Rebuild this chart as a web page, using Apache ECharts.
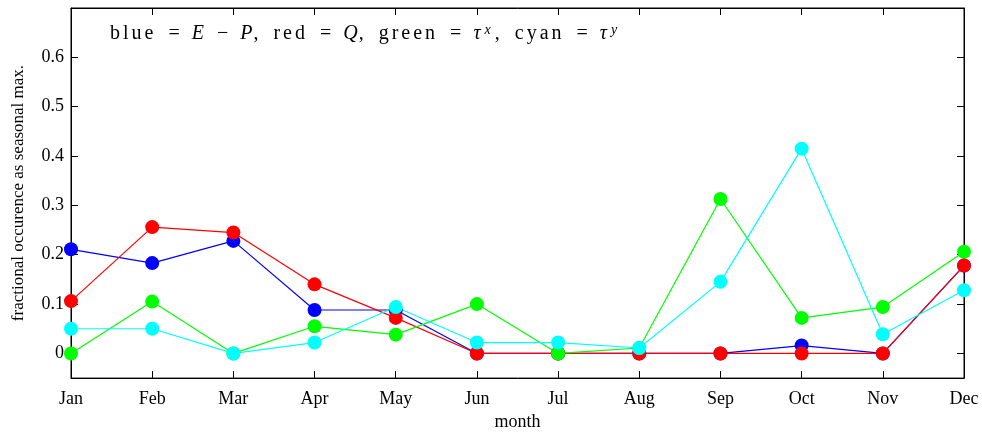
<!DOCTYPE html>
<html>
<head>
<meta charset="utf-8">
<script src="https://cdn.jsdelivr.net/npm/echarts@6/dist/echarts.min.js"></script>
<style>
  html, body { margin: 0; padding: 0; background: #fff; }
  #chart { width: 982px; height: 436px; }
</style>
</head>
<body>
<div id="chart"></div>
<script>
// Months along the x axis
const months = ['Jan', 'Feb', 'Mar', 'Apr', 'May', 'Jun', 'Jul', 'Aug', 'Sep', 'Oct', 'Nov', 'Dec'];

// Fractional occurrence as seasonal max, per month
const evapMinusPrecip = [0.211, 0.183, 0.228, 0.088, 0.088, 0, 0, 0, 0, 0.016, 0, 0.178];   // blue, E - P
const heatFlux        = [0.106, 0.256, 0.245, 0.140, 0.072, 0, 0, 0, 0, 0, 0, 0.178];       // red, Q
const tauX            = [0, 0.105, 0, 0.055, 0.038, 0.100, 0, 0.011, 0.313, 0.072, 0.094, 0.206]; // green
const tauY            = [0.050, 0.050, 0, 0.022, 0.094, 0.022, 0.022, 0.011, 0.145, 0.415, 0.039, 0.128]; // cyan

// Labelled y ticks
const yTicks = [0, 0.1, 0.2, 0.3, 0.4, 0.5, 0.6];

const serif = 'Liberation Serif';

// Build a letter-spaced rich string: each character becomes its own token
function spaced(str, tok) {
  return str.split('').map(ch => '{' + tok + '|' + ch + '}').join('');
}
const gap = '{g| }';
const legendText =
  spaced('blue', 'r') + gap + '{m|=}' + gap + '{i|E}' + gap + '{m|−}' + gap + '{i|P}{r|,}' + gap +
  spaced('red', 'r') + gap + '{m|=}' + gap + '{i|Q}{r|,}' + gap +
  spaced('green', 'r') + gap + '{m|=}' + gap + '{i|τ}{s|x}{r|,}' + gap +
  spaced('cyan', 'r') + gap + '{m|=}' + gap + '{i|τ}{s|y}';

function lineSeries(name, data, color) {
  return {
    name: name,
    type: 'line',
    data: data,
    symbol: 'circle',
    symbolSize: 14,
    lineStyle: { color: color, width: 1.2 },
    itemStyle: { color: color },
    emphasis: { disabled: true },
    animation: false
  };
}

const chart = echarts.init(document.getElementById('chart'), null, { renderer: 'canvas' });

chart.setOption({
  backgroundColor: '#fff',
  animation: false,
  grid: {
    left: 71, right: 18, top: 8, bottom: 55,
    show: true, borderColor: '#000', borderWidth: 1
  },
  graphic: [{
    type: 'text',
    left: 110, top: 23,
    style: {
      text: legendText,
      rich: {
        r: { fontFamily: serif, fontSize: 20, fill: '#000', padding: [0, 3, 0, 0] },
        m: { fontFamily: serif, fontSize: 20, fill: '#000' },
        g: { fontFamily: serif, fontSize: 20, fill: '#000', width: 12 },
        i: { fontFamily: serif, fontSize: 20, fontStyle: 'italic', fill: '#000', padding: [0, 1, 0, 0] },
        s: { fontFamily: serif, fontSize: 14, fontStyle: 'italic', fill: '#000', verticalAlign: 'top', padding: [0, 4, 8, 3] }
      }
    }
  }],
  xAxis: [{
    type: 'category',
    data: months,
    boundaryGap: false,
    position: 'bottom',
    name: 'month',
    nameLocation: 'middle',
    nameGap: 34,
    nameTextStyle: { fontFamily: serif, fontSize: 18, color: '#000' },
    axisLine: { onZero: false, lineStyle: { color: '#000', width: 1 } },
    axisTick: { inside: true, length: 7, alignWithLabel: true, lineStyle: { color: '#000' } },
    axisLabel: { fontFamily: serif, fontSize: 18, color: '#000', margin: 12 },
    splitLine: { show: false }
  }, {
    type: 'category',
    data: months,
    boundaryGap: false,
    position: 'top',
    axisLine: { onZero: false, lineStyle: { color: '#000', width: 1 } },
    axisTick: { inside: true, length: 7, alignWithLabel: true, lineStyle: { color: '#000' } },
    axisLabel: { show: false },
    splitLine: { show: false }
  }],
  yAxis: [{
    type: 'value',
    min: -0.05, max: 0.7,
    position: 'left',
    name: 'fractional occurence as seasonal max.',
    nameLocation: 'middle',
    nameGap: 44,
    nameRotate: 90,
    nameTextStyle: { fontFamily: serif, fontSize: 17, color: '#000' },
    axisLine: { show: true, onZero: false, lineStyle: { color: '#000', width: 1 } },
    axisTick: { show: true, inside: true, length: 7, customValues: yTicks, lineStyle: { color: '#000' } },
    axisLabel: {
      fontFamily: serif, fontSize: 18, color: '#000', margin: 7,
      customValues: yTicks,
      formatter: v => (v === 0 ? '0' : v.toFixed(1))
    },
    splitLine: { show: false }
  }, {
    type: 'value',
    min: -0.05, max: 0.7,
    position: 'right',
    axisLine: { show: true, onZero: false, lineStyle: { color: '#000', width: 1 } },
    axisTick: { show: true, inside: true, length: 7, customValues: yTicks, lineStyle: { color: '#000' } },
    axisLabel: { show: false, customValues: yTicks },
    splitLine: { show: false }
  }],
  series: [
    lineSeries('E - P', evapMinusPrecip, '#0000ff'),
    lineSeries('Q', heatFlux, '#ff0000'),
    lineSeries('tau x', tauX, '#00ff00'),
    lineSeries('tau y', tauY, '#00ffff')
  ]
});
</script>
</body>
</html>
